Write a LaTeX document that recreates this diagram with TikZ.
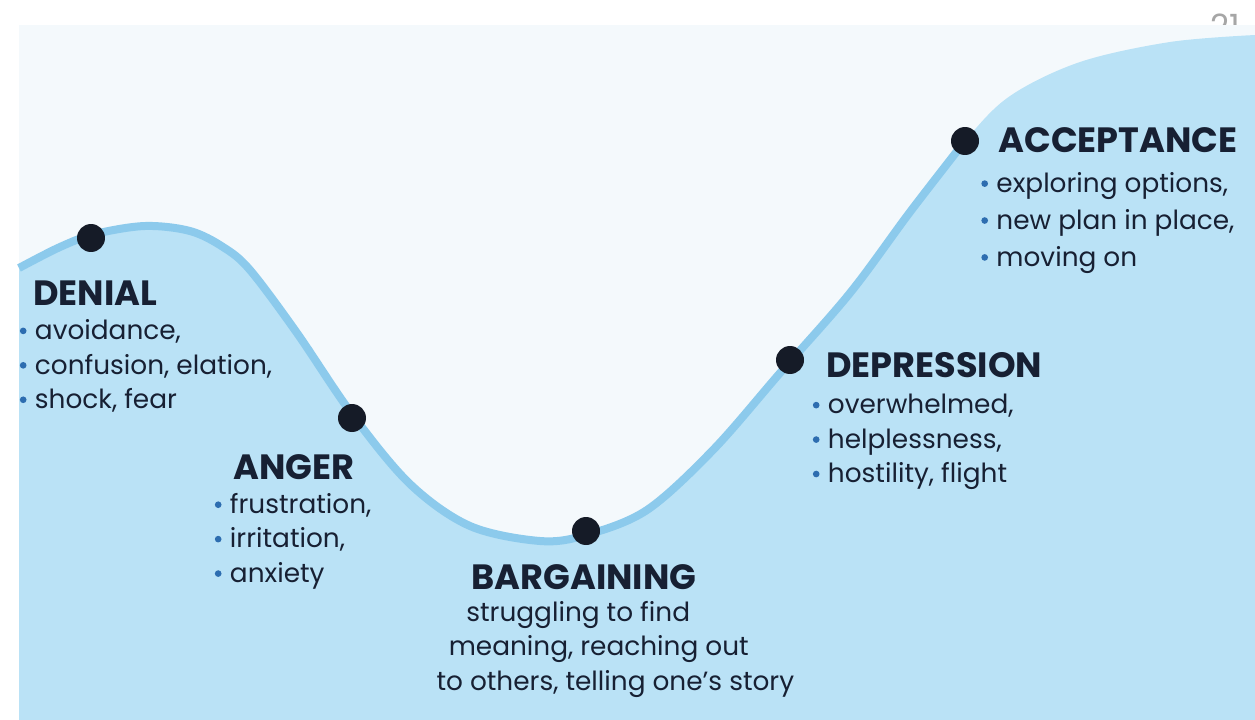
\documentclass[tikz,border=0pt]{standalone}
\usepackage{fontspec}
\setmainfont{Poppins}
\usepackage{tikz}
\usetikzlibrary{calc}
\usetikzlibrary{positioning}

\definecolor{panelbg}{HTML}{F4F9FC}
\definecolor{hillfill}{HTML}{BAE2F6}
\definecolor{hillline}{HTML}{8CCAEC}
\definecolor{dotcol}{HTML}{151B27}
\definecolor{inkcol}{HTML}{172033}
\definecolor{bulcol}{HTML}{2D6DB0}

\newcommand{\blt}{\tikz[baseline=-0.33em]\fill[bulcol] (0,0) circle (1.9pt);\hspace{0.32em}}

\begin{document}
\begin{tikzpicture}[x=0.02cm,y=-0.02cm,
  stage/.style={circle,fill=dotcol,minimum size=0.56cm,inner sep=0pt},
  head/.style={font=\fontsize{20}{22}\selectfont\bfseries,text=inkcol,inner sep=0pt,anchor=west},
  items/.style={font=\fontsize{15}{19.6}\selectfont,text=inkcol,inner sep=0pt,align=left}]

% page and slide
\fill[white] (0,0) rectangle (1255,720);
\node[text=gray!70,font=\fontsize{19}{19}\selectfont] (pageno) at (1225,26) {21};
\fill[panelbg] (19,25) rectangle (1255,720);

% the hill
\fill[hillfill] plot[smooth,tension=0.55] coordinates {
  (19,268) (60,247) (95,234) (145,226) (190,231) (223,247) (250,270)
  (297,333) (352,414) (410,484) (470,526) (540,541) (586,535)
  (647,510) (713,450) (780,373) (850,293) (910,212)
  (965,141) (1010,96) (1080,62) (1170,42) (1255,35)}
  -- (1255,720) -- (19,720) -- cycle;
\draw[hillline,line width=0.16cm] plot[smooth,tension=0.55] coordinates {
  (19,268) (60,247) (95,234) (145,226) (190,231) (223,247) (250,270)
  (297,333) (352,414) (410,484) (470,526) (540,541) (586,535)
  (647,510) (713,450) (780,373) (850,293) (910,212)
  (965,141)};

% stages
\node[stage] (denial) at (91,238) {};
\node[stage] (anger) at (352,418) {};
\node[stage] (bargain) at (586,531) {};
\node[stage] (depress) at (790,360) {};
\node[stage] (accept) at (965,141) {};

\node[head] (dhead) at ($(denial)+(-58,55)$) {DENIAL};
\node[items,below=0.27cm of dhead.south west,anchor=north west,xshift=-0.27cm] (dlist)
  {\blt avoidance,\\ \blt confusion, elation,\\ \blt shock, fear};

\node[head] (ahead) at ($(anger)+(-119,49)$) {ANGER};
\node[items,below=0.26cm of ahead.south west,anchor=north west,xshift=-0.37cm] (alist)
  {\blt frustration,\\ \blt irritation,\\ \blt anxiety};

\node[head,anchor=center] (bhead) at ($(bargain)+(-2,46)$) {BARGAINING};
\node[items,below=0.22cm of bhead.south west,anchor=north west,xshift=-0.7cm] (blist)
  {\hspace*{17pt}struggling to find\\ \hspace*{7pt}meaning, reaching out\\ to others, telling one's story};

\node[head] (phead) at ($(depress)+(36,5)$) {DEPRESSION};
\node[items,below=0.32cm of phead.south west,anchor=north west,xshift=-0.27cm] (plist)
  {\blt overwhelmed,\\ \blt helplessness,\\ \blt hostility, flight};

\node[head] (achead) at ($(accept)+(33,-1)$) {ACCEPTANCE};
\node[items,font=\fontsize{15}{21}\selectfont,below=0.38cm of achead.south west,anchor=north west,xshift=-0.34cm] (aclist)
  {\blt exploring options,\\ \blt new plan in place,\\ \blt moving on};
\end{tikzpicture}
\end{document}
